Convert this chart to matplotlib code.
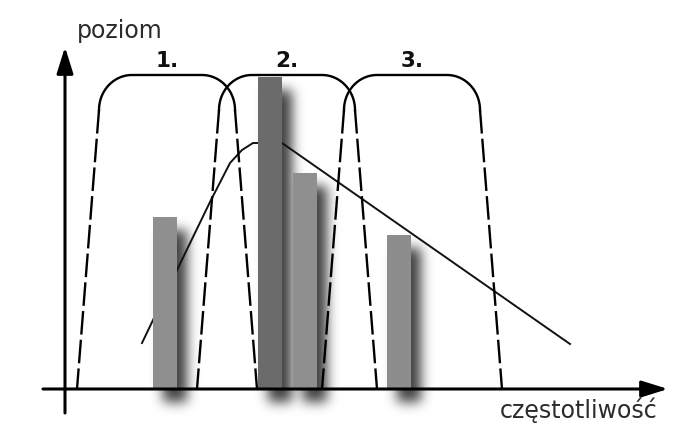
import numpy as np
import matplotlib

matplotlib.use("Agg")
import matplotlib.pyplot as plt

# --- dane (jednostki umowne, początek układu osi = 0, 0) ---
FILTER_CENTERS = [102, 222, 347]
FILTER_LABELS = ["1.", "2.", "3."]

BAR_X = [100, 205, 240, 334]
BAR_H = [172, 312, 216, 154]
BAR_COLORS = ["#8f8f8f", "#6b6b6b", "#8f8f8f", "#8d8d8d"]

ENV_X = [77, 112, 145, 165, 177, 188, 217, 505]
ENV_Y = [46, 119, 187, 226, 239, 246, 246, 45]

X_LABEL = "częstotliwość"
Y_LABEL = "poziom"

# kształt charakterystyki filtra pasmowego
F_BOTTOM = 90     # pół-szerokość u podstawy
F_SHOULDER = 68   # pół-szerokość na początku zaokrąglenia
F_FLAT = 35       # pół-szerokość płaskiego wierzchołka
F_SH_H = 279
F_TOP_H = 314

BAR_W = 24
SHADOW_DX, SHADOW_DY, SHADOW_SIGMA, SHADOW_ALPHA = 10, 13, 6.0, 0.76

TEXT = "#2b2b2b"
X0, X1, Y0, Y1 = -65, 628, -58, 389

fig = plt.figure(figsize=(6.93, 4.47), dpi=100)
ax = fig.add_axes([0, 0, 1, 1])
ax.set_axis_off()

# cienie słupków (rozmyty prostokąt przesunięty w prawo/w dół)
xs = np.arange(X0, X1) + 0.5
ys = np.arange(Y0, Y1) + 0.5
mask = np.zeros((len(ys), len(xs)))
for x, h in zip(BAR_X, BAR_H):
    inx = (xs >= x - BAR_W / 2 + SHADOW_DX) & (xs <= x + BAR_W / 2 + SHADOW_DX)
    iny = (ys >= -SHADOW_DY) & (ys <= h - SHADOW_DY)
    mask[np.ix_(iny, inx)] = 1.0
r = np.arange(-20, 21)
k = np.exp(-r ** 2 / (2 * SHADOW_SIGMA ** 2))
k /= k.sum()
blur = np.apply_along_axis(lambda row: np.convolve(row, k, mode="same"), 1, mask)
blur = np.apply_along_axis(lambda col: np.convolve(col, k, mode="same"), 0, blur)
rgba = np.zeros(mask.shape + (4,))
rgba[..., 3] = SHADOW_ALPHA * blur
ax.imshow(rgba, extent=(X0, X1, Y0, Y1), origin="lower", aspect="auto",
          interpolation="bilinear", zorder=1)

# obwiednia widma
ax.plot(ENV_X, ENV_Y, color="#111111", lw=1.4, zorder=2)

# słupki
ax.bar(BAR_X, BAR_H, width=BAR_W, color=BAR_COLORS, zorder=3)

# filtry
t = np.linspace(0, np.pi / 2, 40)
ux = np.cos(t)
uy = np.sin(t)
rx = F_SHOULDER - F_FLAT
ry = F_TOP_H - F_SH_H
for c, lab in zip(FILTER_CENTERS, FILTER_LABELS):
    cap_x = np.concatenate([c - F_FLAT - rx * ux, c + F_FLAT + rx * ux[::-1]])
    cap_y = np.concatenate([F_SH_H + ry * uy, F_SH_H + ry * uy[::-1]])
    ax.plot(cap_x, cap_y, color="black", lw=1.7, zorder=4)
    for side in (-1, 1):
        ax.plot([c + side * F_SHOULDER, c + side * F_BOTTOM], [F_SH_H, 0],
                color="black", lw=1.7, linestyle=(0, (10, 2.2)), zorder=4)
    ax.text(c, F_TOP_H + 8, lab, ha="center", va="baseline", fontsize=15.5,
            fontweight="bold", color="#111111")

# osie ze strzałkami
arrow = dict(arrowstyle="-|>,head_length=0.8,head_width=0.25", lw=2.2,
             color="black", mutation_scale=20, shrinkA=0, shrinkB=0)
ax.annotate("", xy=(0, 342), xytext=(0, -24), arrowprops=arrow, zorder=5)
ax.annotate("", xy=(603, 0), xytext=(-22, 0), arrowprops=arrow, zorder=5)

ax.text(12, 351, Y_LABEL, ha="left", va="baseline", fontsize=17, color=TEXT)
ax.text(435, -29, X_LABEL, ha="left", va="baseline", fontsize=17, color=TEXT)

ax.set_xlim(X0, X1)
ax.set_ylim(Y0, Y1)
fig.savefig("out.png", dpi=100, facecolor="white")
